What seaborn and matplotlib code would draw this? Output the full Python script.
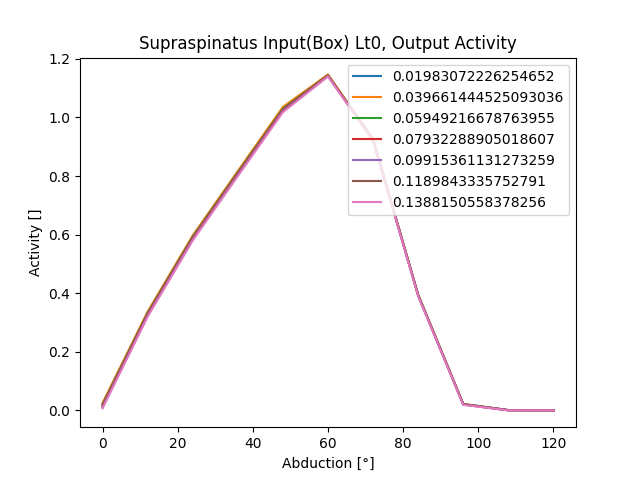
import matplotlib
matplotlib.use("Agg")
import matplotlib.pyplot as plt
import seaborn as sns
import pandas as pd

abduction = [0, 12, 24, 36, 48, 60, 72, 84, 96, 108, 120]
labels = ["0.01983072226254652", "0.039661444525093036", "0.05949216678763955",
          "0.07932288905018607", "0.09915361131273259", "0.1189843335752791",
          "0.1388150558378256"]
s1 = [0.022, 0.335, 0.595, 0.815, 1.032, 1.145, 0.925, 0.395, 0.022, 0.001, 0.0]
s2 = [0.025, 0.337, 0.597, 0.817, 1.036, 1.147, 0.926, 0.395, 0.022, 0.001, 0.0]
s3 = [0.020, 0.332, 0.592, 0.812, 1.030, 1.144, 0.924, 0.394, 0.021, 0.001, 0.0]
s4 = [0.017, 0.329, 0.589, 0.809, 1.027, 1.143, 0.923, 0.393, 0.021, 0.001, 0.0]
s5 = [0.013, 0.326, 0.586, 0.806, 1.024, 1.142, 0.922, 0.392, 0.020, 0.001, 0.0]
s6 = [0.010, 0.323, 0.583, 0.803, 1.021, 1.141, 0.921, 0.391, 0.020, 0.000, 0.0]
s7 = [0.007, 0.320, 0.580, 0.800, 1.018, 1.140, 0.920, 0.390, 0.019, 0.000, 0.0]
series = [s1, s2, s3, s4, s5, s6, s7]

rows = []
for lab, vals in zip(labels, series):
    for x, y in zip(abduction, vals):
        rows.append({"Abduction": x, "Activity": y, "series": lab})
df = pd.DataFrame(rows)

fig, ax = plt.subplots(figsize=(6.4, 4.8), dpi=100)
sns.lineplot(data=df, x="Abduction", y="Activity", hue="series",
             hue_order=labels, palette="tab10", ax=ax)
ax.set_title("Supraspinatus Input(Box) Lt0, Output Activity")
ax.set_xlabel("Abduction [°]")
ax.set_ylabel("Activity []")
ax.legend(loc="upper right")
fig.savefig("out.png", dpi=100)
